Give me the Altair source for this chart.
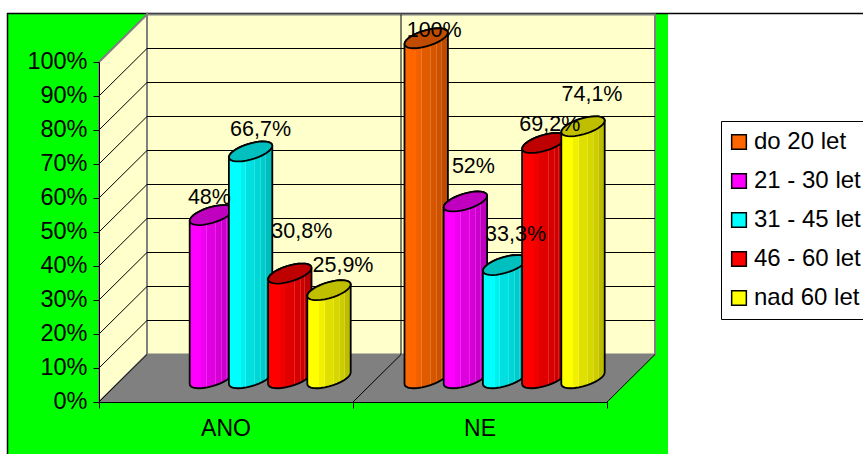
import math

import altair as alt
import pandas as pd

# Survey results by answer and age group (percent); None means no bar.
CATEGORIES = ["ANO", "NE"]
SERIES = ["do 20 let", "21 - 30 let", "31 - 45 let", "46 - 60 let", "nad 60 let"]
VALUES_ANO = [None, 48, 66.7, 30.8, 25.9]
VALUES_NE = [100, 52, 33.3, 69.2, 74.1]
COLOURS = ["#FF6600", "#FF00FF", "#00FFFF", "#FF0000", "#FFFF00"]
Y_TICKS = [0, 10, 20, 30, 40, 50, 60, 70, 80, 90, 100]

# Plot box of the front plane, in pixels, and the oblique depth offset.
PLOT_W, PLOT_H = 508, 340
LEFT, TOP = 99, 62
CANVAS_W, CANVAS_H = 863, 454
PX_X = PLOT_W / 2
PX_Y = PLOT_H / 100
DX = 48 / PX_X
DY = 47.5 / PX_Y

# Column footprint and spacing, in pixels.
SLOT_PX = 39.2
RX_PX = 21.7
RY_PX = 10
SKEW = math.radians(35)
STEPS = 16
COLUMN_SHIFT_PX = 0.6

# Where each value label sits relative to its column's top (dx, dy in pixels).
LABEL_NUDGE = {
    ("ANO", 1): (-2, -17),
    ("ANO", 2): (10, -21),
    ("ANO", 3): (12, -42),
    ("ANO", 4): (14, -24),
    ("NE", 0): (8, -7),
    ("NE", 1): (8, -34),
    ("NE", 2): (11, -30),
    ("NE", 3): (6, -18),
    ("NE", 4): (9, -31),
}

FONT = "Liberation Sans"
X_SCALE = alt.Scale(domain=[0, 2], nice=False, zero=False)
Y_SCALE = alt.Scale(domain=[0, 100], nice=False, zero=False)
X_AXIS = alt.Axis(values=[0, 1, 2], title=None, labels=False, grid=False, tickSize=6,
                  tickColor="black", domainColor="black", zindex=1)
Y_AXIS = alt.Axis(values=Y_TICKS, title=None, grid=False, tickSize=6, tickColor="black",
                  domainColor="black", labelFont=FONT, labelFontSize=23.5, labelColor="black",
                  labelPadding=6, labelOffset=-1, labelExpr="datum.value + '%'", zindex=1)


def xq():
    return alt.X("x:Q", scale=X_SCALE, axis=X_AXIS)


def yq():
    return alt.Y("y:Q", scale=Y_SCALE, axis=Y_AXIS)


def shade(colour, factor):
    r, g, b = (int(colour[i:i + 2], 16) for i in (1, 3, 5))
    return "#%02X%02X%02X" % (round(r * factor), round(g * factor), round(b * factor))


def lighten(colour, amount):
    r, g, b = (int(colour[i:i + 2], 16) for i in (1, 3, 5))
    mix = lambda c: round(c + (255 - c) * amount)
    return "#%02X%02X%02X" % (mix(r), mix(g), mix(b))


def column_fill(colour):
    # Faceted cylinder shading: flat bands with thin highlights between them.
    bands = [(0.0, 0.27, 1.0), (0.27, 0.40, 0.94), (0.40, 0.61, 0.88),
             (0.61, 0.75, 0.84), (0.75, 0.86, 0.80), (0.86, 1.0, 0.74)]
    stops = []
    for i, (start, end, factor) in enumerate(bands):
        base = shade(colour, factor)
        stops.append(alt.GradientStop(offset=start, color=base))
        if 1 <= i <= 4:
            hi = lighten(base, 0.15)
            stops.append(alt.GradientStop(offset=end - 0.022, color=base))
            stops.append(alt.GradientStop(offset=end - 0.022, color=hi))
            stops.append(alt.GradientStop(offset=end, color=hi))
        else:
            stops.append(alt.GradientStop(offset=end, color=base))
    return alt.Gradient(gradient="linear", x1=0, x2=1, y1=0, y2=0, stops=stops)


def ellipse_edges(centre_x, value):
    # Upper and lower edge of a column's elliptical end at the given value.
    rows = []
    for k in range(STEPS + 1):
        t = math.pi * k / STEPS
        rows.append({
            "x": centre_x + RX_PX / PX_X * math.cos(t),
            "upper": value + DY / 2 + RY_PX / PX_Y * math.sin(t + SKEW),
            "lower": value + DY / 2 + RY_PX / PX_Y * math.sin(SKEW - t),
        })
    return rows


def area_layer(frame, **mark):
    return alt.Chart(frame).mark_area(**mark).encode(
        x=xq(), y=yq(), y2=alt.Y2("y2:Q")
    )


def polyline(points, **mark):
    frame = pd.DataFrame(
        [{"x": x, "y": y, "i": i, "id": j} for j, line in enumerate(points) for i, (x, y) in enumerate(line)]
    )
    return alt.Chart(frame).mark_line(**mark).encode(
        x=xq(), y=yq(), detail="id:N", order="i:Q"
    )


# Legend carrier; the chart background paints over its points.
legend_rows = pd.DataFrame({"x": [0.0] * len(SERIES), "y": [0.0] * len(SERIES), "series": SERIES})
carrier = alt.Chart(legend_rows).mark_square(size=1).encode(
    x=xq(),
    y=yq(),
    color=alt.Color(
        "series:N",
        sort=SERIES,
        scale=alt.Scale(domain=SERIES, range=COLOURS),
        legend=alt.Legend(
            title=None, orient="none", legendX=721 - LEFT, legendY=121 - TOP,
            fillColor="white", strokeColor="black", padding=9, rowPadding=15,
            labelFont=FONT, labelFontSize=24, labelColor="black", labelLimit=300, labelOffset=3,
            symbolType="square", symbolSize=216, symbolStrokeColor="black",
            symbolStrokeWidth=1.5, symbolOpacity=1, symbolOffset=-3,
        ),
    ),
)

layers = [carrier]

# Chart area: green panel and the black rules along its top and left side.
backdrop = alt.Chart(pd.DataFrame({"a": [0]}))
layers.append(backdrop.mark_rect(color="#00FF00").encode(
    x=alt.value(8 - LEFT), x2=alt.value(668 - LEFT),
    y=alt.value(14 - TOP), y2=alt.value(CANVAS_H - TOP),
))
layers.append(backdrop.mark_rule(color="black", strokeWidth=1.5).encode(
    x=alt.value(7 - LEFT), x2=alt.value(CANVAS_W - LEFT), y=alt.value(13.5 - TOP),
))
layers.append(backdrop.mark_rule(color="black", strokeWidth=1.5).encode(
    x=alt.value(7.5 - LEFT), y=alt.value(13 - TOP), y2=alt.value(CANVAS_H - TOP),
))

# Side wall, back wall and floor of the box.
side = pd.DataFrame({"x": [0, DX], "y": [100, 100 + DY], "y2": [0, DY]})
back = pd.DataFrame({"x": [DX, 2 + DX], "y": [100 + DY] * 2, "y2": [DY] * 2})
floor = pd.DataFrame({
    "x": [0, DX, 2, 2 + DX],
    "y": [0, DY, DY, DY],
    "y2": [0, 0, 0, DY],
})
layers.append(area_layer(side, color="#FFFFCC", stroke="#808080", strokeWidth=2))
layers.append(area_layer(back, color="#FFFFCC", stroke="#808080", strokeWidth=2))
layers.append(area_layer(floor, color="#808080"))

# Gridlines run up the side wall and across the back wall.
grid = [[(0, v), (DX, v + DY), (2 + DX, v + DY)] for v in Y_TICKS[1:-1]]
layers.append(polyline(grid, color="black", strokeWidth=1))
edges = [
    [(0, 0), (DX, DY)],
    [(1, 0), (1 + DX, DY), (1 + DX, 100 + DY)],
    [(2, 0), (2 + DX, DY)],
]
layers.append(polyline(edges, color="black", strokeWidth=1))

# Columns, drawn back to front in series order inside each category.
label_layers = []
for c, (category, values) in enumerate(zip(CATEGORIES, [VALUES_ANO, VALUES_NE])):
    for s, value in enumerate(values):
        if value is None:
            continue
        centre = c + 0.5 + DX / 2 + ((s - 2) * SLOT_PX + COLUMN_SHIFT_PX) / PX_X
        top = ellipse_edges(centre, value)
        base = ellipse_edges(centre, 0)
        body = pd.DataFrame({
            "x": [r["x"] for r in top],
            "y": [r["upper"] for r in top],
            "y2": [r["lower"] for r in base],
        })
        cap = pd.DataFrame({
            "x": [r["x"] for r in top],
            "y": [r["upper"] for r in top],
            "y2": [r["lower"] for r in top],
        })
        layers.append(area_layer(body, color=column_fill(COLOURS[s]), stroke="black", strokeWidth=1.8))
        layers.append(area_layer(cap, color=shade(COLOURS[s], 0.75), stroke="black", strokeWidth=1.8))

        dx, dy = LABEL_NUDGE[(category, s)]
        text = f"{value:g}".replace(".", ",") + "%"
        point = pd.DataFrame({"x": [centre], "y": [value + DY / 2], "label": [text]})
        label_layers.append(
            alt.Chart(point)
            .mark_text(font=FONT, fontSize=21.5, color="black", dx=dx, dy=dy)
            .encode(x=xq(), y=yq(), text="label:N")
        )

layers.extend(label_layers)

# Category names centred under each half of the axis.
names = pd.DataFrame({"x": [0.5, 1.5], "label": CATEGORIES})
layers.append(
    alt.Chart(names)
    .mark_text(font=FONT, fontSize=23, color="black", baseline="middle")
    .encode(x=xq(), y=alt.value(367), text="label:N")
)

chart = (
    alt.layer(*layers)
    .properties(
        width=PLOT_W,
        height=PLOT_H,
        autosize=alt.AutoSizeParams(type="none", contains="content"),
        padding={
            "left": LEFT,
            "top": TOP,
            "right": CANVAS_W - LEFT - PLOT_W,
            "bottom": CANVAS_H - TOP - PLOT_H,
        },
        background="white",
    )
    .configure_view(stroke=None)
)

chart.save("out.html", embed_options={"renderer": "svg", "actions": False})
